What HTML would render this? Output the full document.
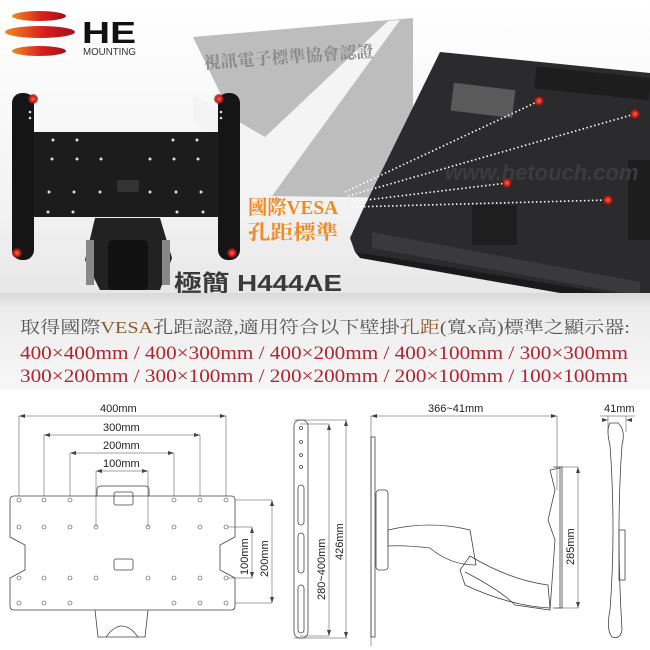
<!DOCTYPE html>
<html><head><meta charset="utf-8"><style>
body{margin:0;width:650px;height:650px;overflow:hidden;background:#fff;font-family:"Liberation Sans","Noto Sans CJK TC",sans-serif}
svg{display:block}
.s{font-family:"Liberation Serif","Noto Serif CJK SC",serif}
</style></head><body>
<svg width="650" height="650" viewBox="0 0 650 650" xmlns="http://www.w3.org/2000/svg">
<defs>
<linearGradient id="lg" x1="0" x2="1"><stop offset="0" stop-color="#f08a1e"/><stop offset="0.55" stop-color="#d8201e"/><stop offset="1" stop-color="#a0101a"/></linearGradient>
<linearGradient id="bg" x1="0" y1="0" x2="0" y2="1"><stop offset="0" stop-color="#ffffff"/><stop offset="0.7" stop-color="#f2f2f2"/><stop offset="1" stop-color="#e6e6e6"/></linearGradient>
<linearGradient id="band" x1="0" y1="0" x2="0" y2="1"><stop offset="0" stop-color="#d9d9d9"/><stop offset="0.15" stop-color="#ececec"/><stop offset="1" stop-color="#f7f7f7"/></linearGradient>
<radialGradient id="rd"><stop offset="0" stop-color="#ff6a50"/><stop offset="0.6" stop-color="#c8201a"/><stop offset="1" stop-color="#801010" stop-opacity="0.6"/></radialGradient>
</defs>
<rect width="650" height="300" fill="url(#bg)"/>
<ellipse cx="39" cy="16" rx="27" ry="5" fill="url(#lg)"/>
<ellipse cx="40" cy="32" rx="35" ry="6" fill="url(#lg)"/>
<ellipse cx="39" cy="51" rx="27" ry="5" fill="url(#lg)"/>
<text x="82" y="43" font-size="31" font-weight="bold" fill="#111" textLength="54" lengthAdjust="spacingAndGlyphs">HE</text>
<text x="83" y="55" font-size="10" fill="#333" textLength="53" lengthAdjust="spacingAndGlyphs">MOUNTING</text>
<polygon points="193,37 413,18 413,198 270,196" fill="#bdbdbd"/>
<polygon points="193,95 265,137 388,21 400,20 272,196 256,190 193,118" fill="#f4f4f4"/>
<text x="203" y="62" font-size="17" fill="#8a8a8a" font-weight="bold" transform="rotate(-4 300 50)" class="s">視訊電子標準協會認證</text>
<polygon points="440,52 650,73 650,300 600,300 355,252 350,238 365,205" fill="#2b2b2d"/>
<polygon points="355,252 650,300 600,300 360,258" fill="#1a1a1a"/>
<polygon points="372,232 640,282 640,296 372,248" fill="#3a3a3c"/>
<rect x="452" y="86" width="62" height="28" fill="#5a5a5a" transform="rotate(7 480 100)"/>
<rect x="535" y="72" width="115" height="22" fill="#1d1d1d" transform="rotate(6 590 83)"/>
<rect x="472" y="205" width="45" height="40" fill="#1e1e1e"/>
<rect x="628" y="160" width="22" height="80" fill="#1d1d1d"/>
<text x="445" y="180" font-size="22" font-weight="bold" font-style="italic" fill="#3c3c3e">www.hetouch.com</text>
<g stroke="#fff" stroke-width="1.6" stroke-dasharray="1.5 2.5" fill="none">
<line x1="345" y1="192" x2="539" y2="101"/>
<line x1="348" y1="196" x2="635" y2="114"/>
<line x1="350" y1="202" x2="507" y2="183"/>
<line x1="352" y1="207" x2="608" y2="200"/>
</g>
<circle cx="539" cy="101" r="5" fill="url(#rd)"/>
<circle cx="635" cy="114" r="5" fill="url(#rd)"/>
<circle cx="507" cy="183" r="5" fill="url(#rd)"/>
<circle cx="608" cy="200" r="5" fill="url(#rd)"/>
<text x="248" y="214" font-size="20" font-weight="bold" fill="#f08a24" class="s" textLength="90" lengthAdjust="spacingAndGlyphs">國際VESA</text>
<text x="248" y="239" font-size="20" font-weight="bold" fill="#f08a24" class="s" textLength="90" lengthAdjust="spacingAndGlyphs">孔距標準</text>
<path d="M95,218 L85,260 L100,290 L160,290 L172,258 L160,218 Z" fill="#222"/>
<rect x="108" y="240" width="40" height="50" rx="5" fill="#111"/>
<rect x="86" y="240" width="8" height="45" fill="#888"/>
<rect x="162" y="240" width="8" height="45" fill="#888"/>
<rect x="31" y="132" width="195" height="85" fill="#1c1c1c"/>
<rect x="12" y="93" width="22" height="167" rx="10" fill="#151515"/>
<rect x="218" y="93" width="22" height="167" rx="10" fill="#151515"/>
<g fill="#ddd">
<circle cx="53" cy="140" r="1.5"/><circle cx="77" cy="140" r="1.5"/><circle cx="173" cy="140" r="1.5"/><circle cx="197" cy="140" r="1.5"/>
<circle cx="52" cy="159" r="1.5"/><circle cx="77" cy="159" r="1.5"/><circle cx="101" cy="159" r="1.5"/><circle cx="150" cy="159" r="1.5"/><circle cx="174" cy="159" r="1.5"/><circle cx="198" cy="159" r="1.5"/>
<circle cx="49" cy="192" r="1.5"/><circle cx="74" cy="192" r="1.5"/><circle cx="100" cy="192" r="1.5"/><circle cx="150" cy="192" r="1.5"/><circle cx="176" cy="192" r="1.5"/><circle cx="201" cy="192" r="1.5"/>
<circle cx="48" cy="212" r="1.5"/><circle cx="73" cy="212" r="1.5"/><circle cx="177" cy="212" r="1.5"/><circle cx="203" cy="212" r="1.5"/>
<circle cx="30" cy="112" r="1.3"/><circle cx="30" cy="118" r="1.3"/><circle cx="221" cy="112" r="1.3"/><circle cx="221" cy="118" r="1.3"/>
</g>
<rect x="117" y="180" width="22" height="12" rx="2" fill="#333"/>
<circle cx="33" cy="99" r="5" fill="url(#rd)"/><circle cx="219" cy="99" r="5" fill="url(#rd)"/>
<circle cx="17" cy="253" r="5" fill="url(#rd)"/><circle cx="232" cy="253" r="5" fill="url(#rd)"/>
<text x="174" y="291" font-size="23" font-weight="bold" fill="#3a3a3a" textLength="168" lengthAdjust="spacingAndGlyphs">極簡 H444AE</text>
<rect x="0" y="293" width="650" height="97" fill="url(#band)"/>
<g class="s" fill="#555">
<text x="20" y="333" font-size="17" textLength="610" lengthAdjust="spacingAndGlyphs">取得國際<tspan fill="#8b5a2b">VESA</tspan>孔距認證,適用符合以下壁掛<tspan fill="#8b5a2b">孔距</tspan>(寬x高)標準之顯示器:</text>
<text x="20" y="359" font-size="19" fill="#b4232e" textLength="608" lengthAdjust="spacingAndGlyphs">400×400mm / 400×300mm / 400×200mm / 400×100mm / 300×300mm</text>
<text x="20" y="382" font-size="19" fill="#b4232e" textLength="608" lengthAdjust="spacingAndGlyphs">300×200mm / 300×100mm / 200×200mm / 200×100mm / 100×100mm</text>
</g>
<g stroke="#444" stroke-width="0.8" fill="none">
<path d="M14,496 H231 Q235,496 235,500 V537 L220,545 V570 L235,578 V606 Q235,610 231,610 H14 Q10,610 10,606 V578 L25,570 V545 L10,537 V500 Q10,496 14,496 Z"/>
<path d="M97,496 V490 Q97,486 101,486 H145 Q149,486 149,490 V496"/>
<rect x="114" y="492" width="19" height="13" rx="2"/>
<rect x="114" y="559" width="19" height="11" rx="2"/>
<path d="M95,610 L98,637 H145 L148,610"/>
<path d="M106,637 Q122,615 138,637"/>
<g stroke-width="0.6">
<circle cx="19" cy="500" r="2"/><circle cx="44" cy="500" r="2"/><circle cx="70" cy="500" r="2"/><circle cx="174" cy="500" r="2"/><circle cx="200" cy="500" r="2"/><circle cx="226" cy="500" r="2"/>
<circle cx="19" cy="527" r="2"/><circle cx="44" cy="527" r="2"/><circle cx="70" cy="527" r="2"/><circle cx="96" cy="527" r="2"/><circle cx="148" cy="527" r="2"/><circle cx="174" cy="527" r="2"/><circle cx="200" cy="527" r="2"/><circle cx="226" cy="527" r="2"/>
<circle cx="19" cy="578" r="2"/><circle cx="44" cy="578" r="2"/><circle cx="70" cy="578" r="2"/><circle cx="96" cy="578" r="2"/><circle cx="148" cy="578" r="2"/><circle cx="174" cy="578" r="2"/><circle cx="200" cy="578" r="2"/><circle cx="226" cy="578" r="2"/>
<circle cx="19" cy="603" r="2"/><circle cx="44" cy="603" r="2"/><circle cx="70" cy="603" r="2"/><circle cx="174" cy="603" r="2"/><circle cx="200" cy="603" r="2"/><circle cx="226" cy="603" r="2"/>
</g>
<g stroke-width="0.5">
<path d="M19,416 V496 M226,416 V496 M19,416 H226"/>
<path d="M44,435 V496 M200,435 V496 M44,435 H200"/>
<path d="M70,453 V496 M174,453 V496 M70,453 H174"/>
<path d="M96,471 V527 M148,471 V527 M96,471 H148"/>
<path d="M228,527 H252 V578 M228,578 H252 M235,500 H272 V603 M235,603 H272"/>
<path d="M294,420 H347 M294,638 H347 M346,420 V638 M300,424 H329 V636 M300,636 H329"/>
<path d="M371,416 V646 M557,416 V490 M371,416 H557"/>
<path d="M557,467 H578 V608 H557"/>
<path d="M608,416 V432 M626,416 V432 M600,416 H635"/>
</g>
<rect x="294" y="420" width="14" height="218" rx="6"/>
<rect x="298" y="485" width="6" height="40" rx="3"/><rect x="298" y="533" width="6" height="40" rx="3"/><rect x="298" y="585" width="6" height="48" rx="3"/>
<circle cx="301" cy="428" r="1.5"/><circle cx="301" cy="442" r="1.5"/><circle cx="301" cy="455" r="1.5"/><circle cx="301" cy="467" r="1.5"/>
<rect x="371" y="437" width="4" height="200"/>
<rect x="376" y="490" width="12" height="80" rx="3"/>
<path d="M388,530 Q430,520 470,530 L476,565 Q450,565 430,548 Q405,545 388,546 Z"/>
<path d="M465,572 Q500,590 515,605 L550,610 L555,540 L548,520 L555,490 L550,470 L560,468 V608"/>
<path d="M460,570 L470,556 Q510,580 548,585 L550,608 Q510,606 465,585 Z"/>
<path d="M553,467 H562 V608 H553"/>
<path d="M610,423 Q606,430 610,445 Q616,530 610,610 Q606,630 612,637 Q620,640 622,630 Q616,530 622,445 Q626,430 618,423 Z"/>
<rect x="619" y="530" width="6" height="50"/>
</g>
<g fill="#444">
<path d="M19,416 l6,-2 v4z M226,416 l-6,-2 v4z M44,435 l6,-2 v4z M200,435 l-6,-2 v4z M70,453 l6,-2 v4z M174,453 l-6,-2 v4z M96,471 l6,-2 v4z M148,471 l-6,-2 v4z"/>
<path d="M252,527 l-2,6 h4z M252,578 l-2,-6 h4z M272,500 l-2,6 h4z M272,603 l-2,-6 h4z"/>
<path d="M329,424 l-2,6 h4z M329,636 l-2,-6 h4z M346,420 l-2,6 h4z M346,638 l-2,-6 h4z"/>
<path d="M371,416 l6,-2 v4z M557,416 l-6,-2 v4z M578,467 l-2,6 h4z M578,608 l-2,-6 h4z M608,420 l-6,-2 v4z M626,420 l6,-2 v4z"/>
</g>
<g font-size="11" fill="#222">
<text x="100" y="412">400mm</text><text x="103" y="431">300mm</text><text x="103" y="449">200mm</text><text x="103" y="467">100mm</text>
<text transform="translate(248,575) rotate(-90)">100mm</text>
<text transform="translate(268,577) rotate(-90)">200mm</text>
<text transform="translate(325,600) rotate(-90)">280~400mm</text>
<text transform="translate(343,560) rotate(-90)">426mm</text>
<text x="428" y="412">366~41mm</text>
<text transform="translate(574,565) rotate(-90)">285mm</text>
<text x="604" y="412">41mm</text>
</g>
</svg>
</body></html>
